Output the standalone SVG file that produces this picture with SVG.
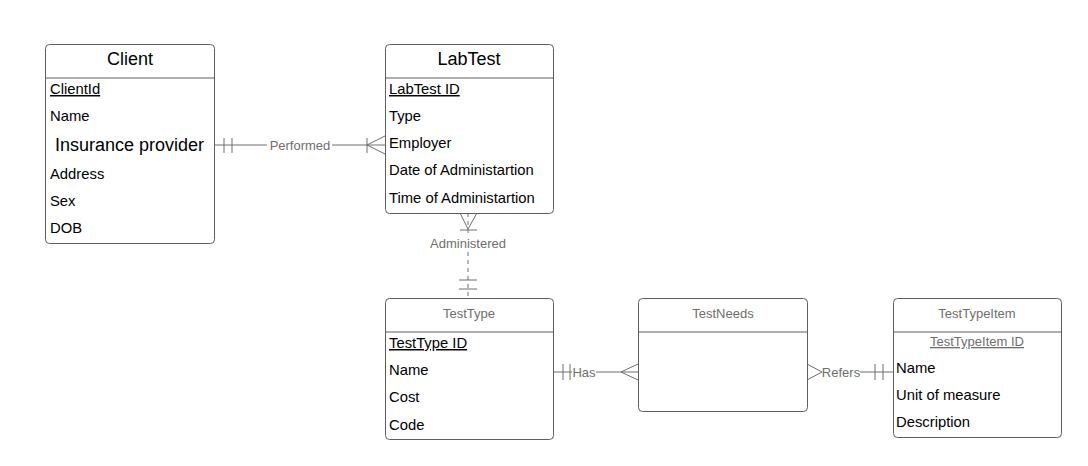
<svg xmlns="http://www.w3.org/2000/svg" width="1088" height="466" viewBox="0 0 1088 466">
  <style>
    .box { fill: #ffffff; stroke: #5e5e5e; stroke-width: 1; }
    .sep { stroke: #5e5e5e; stroke-width: 1; }
    .title { font-family: "Liberation Sans", Arial, sans-serif; font-size: 18px; fill: #000000; text-anchor: middle; }
    .title-sm { font-family: "Liberation Sans", Arial, sans-serif; font-size: 13px; fill: #6e6e6e; text-anchor: middle; }
    .row { font-family: "Liberation Sans", Arial, sans-serif; font-size: 14.8px; fill: #000000; }
    .key { text-decoration: underline; }
    .big { font-size: 18px; }
    .link { stroke: #6e6e6e; stroke-width: 1; fill: none; }
    .dash { stroke-dasharray: 4 4; }
    .lbl { font-family: "Liberation Sans", Arial, sans-serif; font-size: 13px; fill: #6e6e6e; text-anchor: middle; }
  </style>

  <rect x="0" y="0" width="1088" height="466" fill="#ffffff"/>

  <!-- Connectors -->
  <g id="connectors">
    <!-- Client to LabTest: Performed -->
    <g id="performed">
      <line class="link" x1="215" y1="145" x2="267" y2="145"/>
      <line class="link" x1="332" y1="145" x2="385" y2="145"/>
      <line class="link" x1="224" y1="138" x2="224" y2="153"/>
      <line class="link" x1="232" y1="138" x2="232" y2="153"/>
      <line class="link" x1="367" y1="138" x2="367" y2="153"/>
      <path class="link" d="M385,136 L367,145 L385,154"/>
      <text class="lbl" x="300" y="149.5">Performed</text>
    </g>
    <!-- LabTest to TestType: Administered -->
    <g id="administered">
      <line class="link dash" x1="468" y1="213" x2="468" y2="234"/>
      <line class="link dash" x1="468" y1="252" x2="468" y2="298"/>
      <path class="link" d="M460,213 L468,229 L477,213"/>
      <line class="link" x1="460" y1="230" x2="477" y2="230"/>
      <line class="link" x1="459" y1="280" x2="477" y2="280"/>
      <line class="link" x1="459" y1="289" x2="477" y2="289"/>
      <text class="lbl" x="468" y="248">Administered</text>
    </g>
    <!-- TestType to TestNeeds: Has -->
    <g id="has">
      <line class="link" x1="553" y1="372" x2="572" y2="372"/>
      <line class="link" x1="596" y1="372" x2="638" y2="372"/>
      <line class="link" x1="563" y1="364" x2="563" y2="380"/>
      <line class="link" x1="570" y1="364" x2="570" y2="380"/>
      <path class="link" d="M638,364 L621,372 L638,380"/>
      <text class="lbl" x="584" y="376.5">Has</text>
    </g>
    <!-- TestNeeds to TestTypeItem: Refers -->
    <g id="refers">
      <path class="link" d="M807,364 L822,372 L807,380"/>
      <line class="link" x1="860" y1="372" x2="893" y2="372"/>
      <line class="link" x1="875" y1="364" x2="875" y2="380"/>
      <line class="link" x1="883" y1="364" x2="883" y2="380"/>
      <text class="lbl" x="841" y="376.5">Refers</text>
    </g>
  </g>

  <!-- Client entity -->
  <g id="client">
    <rect class="box" x="45.5" y="44.5" width="169" height="199" rx="4"/>
    <line class="sep" x1="45.5" y1="78" x2="214.5" y2="78"/>
    <text class="title" x="130" y="65">Client</text>
    <text class="row key" x="50" y="94">ClientId</text>
    <text class="row" x="50" y="121">Name</text>
    <text class="row big" x="55" y="151">Insurance provider</text>
    <text class="row" x="50" y="179">Address</text>
    <text class="row" x="50" y="206">Sex</text>
    <text class="row" x="50" y="233">DOB</text>
  </g>

  <!-- LabTest entity -->
  <g id="labtest">
    <rect class="box" x="385.5" y="44.5" width="168" height="169" rx="4"/>
    <line class="sep" x1="385.5" y1="78" x2="553.5" y2="78"/>
    <text class="title" x="469" y="65">LabTest</text>
    <text class="row key" x="389" y="94">LabTest ID</text>
    <text class="row" x="389" y="121">Type</text>
    <text class="row" x="389" y="148">Employer</text>
    <text class="row" x="389" y="175">Date of Administartion</text>
    <text class="row" x="389" y="203">Time of Administartion</text>
  </g>

  <!-- TestType entity -->
  <g id="testtype">
    <rect class="box" x="385.5" y="298.5" width="168" height="141" rx="4"/>
    <line class="sep" x1="385.5" y1="332" x2="553.5" y2="332"/>
    <text class="title-sm" x="469" y="318">TestType</text>
    <text class="row key" x="389" y="348">TestType ID</text>
    <text class="row" x="389" y="375">Name</text>
    <text class="row" x="389" y="402">Cost</text>
    <text class="row" x="389" y="430">Code</text>
  </g>

  <!-- TestNeeds entity -->
  <g id="testneeds">
    <rect class="box" x="638.5" y="298.5" width="169" height="113" rx="4"/>
    <line class="sep" x1="638.5" y1="332" x2="807.5" y2="332"/>
    <text class="title-sm" x="723" y="318">TestNeeds</text>
  </g>

  <!-- TestTypeItem entity -->
  <g id="testtypeitem">
    <rect class="box" x="893.5" y="298.5" width="168" height="139" rx="4"/>
    <line class="sep" x1="893.5" y1="332" x2="1061.5" y2="332"/>
    <text class="title-sm" x="977" y="318">TestTypeItem</text>
    <text class="title-sm key" x="977" y="346">TestTypeItem ID</text>
    <text class="row" x="896" y="373">Name</text>
    <text class="row" x="896" y="400">Unit of measure</text>
    <text class="row" x="896" y="427">Description</text>
  </g>
</svg>
